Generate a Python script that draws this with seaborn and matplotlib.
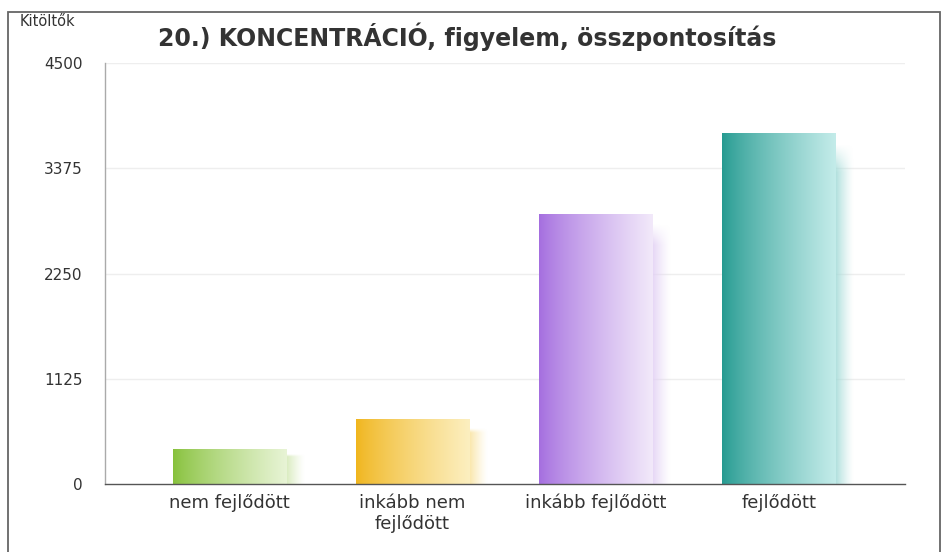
import numpy as np
import pandas as pd
import matplotlib
matplotlib.use('Agg')
import matplotlib.pyplot as plt
import matplotlib.colors as mcolors
from matplotlib.patches import Rectangle
import seaborn as sns

# data
categories = ['nem fejlődött', 'inkább nem\nfejlődött', 'inkább fejlődött', 'fejlődött']
values = [370, 700, 2890, 3750]
yticks = [0, 1125, 2250, 3375, 4500]
dark_colors = ['#86c13a', '#f0b51c', '#a46ddf', '#249a90']
light_colors = ['#e8f4d6', '#fcefc0', '#f2e9fa', '#c4ecea']

df = pd.DataFrame({'cat': categories, 'val': values})

sns.set_style('white')
plt.rcParams['font.family'] = ['DejaVu Sans']

fig = plt.figure(figsize=(9.49, 5.52), dpi=100)
ax = fig.add_axes([105 / 949, 1 - 484 / 552, 800 / 949, 421 / 552])

sns.barplot(data=df, x='cat', y='val', ax=ax, width=0.62,
            color='white', edgecolor='none', zorder=3)

ax.set_xlim(-0.68, 3.69)
ax.set_ylim(0, 4500)

# gradient fill + soft shadow for each bar
for patch, c1, c2 in zip(ax.patches, dark_colors, light_colors):
    x0, w, h = patch.get_x(), patch.get_width(), patch.get_height()
    r1 = np.array(mcolors.to_rgb(c1))
    r2 = np.array(mcolors.to_rgb(c2))

    # shadow: lighter blurred strip to the right of the bar
    sx0, sx1 = x0 + w - 0.03, x0 + w + 0.1
    top = max(h - 110, h * 0.85)
    nx, ny = 100, 100
    gx = np.linspace(0, 1, nx)
    gy = np.linspace(0, 1, ny)
    fade_x = np.clip((1 - gx) / 0.75, 0, 1) ** 1.3
    fade_y = np.clip((1 - gy) / 0.08, 0, 1)
    img = np.zeros((ny, nx, 4))
    img[..., :3] = r2 * 0.8 + r1 * 0.2
    img[..., 3] = np.outer(fade_y, fade_x) * 0.85
    ax.imshow(img, extent=[sx0, sx1, 0, top], origin='lower',
              aspect='auto', zorder=2, interpolation='bilinear')

    # main bar gradient (dark left -> light right)
    t = np.linspace(0, 1, 256) ** 0.8
    grad = (r1[None, :] * (1 - t[:, None]) + r2[None, :] * t[:, None])
    grad = grad[None, :, :]
    im = ax.imshow(grad, extent=[x0, x0 + w, 0, h], origin='lower',
                   aspect='auto', zorder=4, interpolation='bilinear')
    im.set_clip_path(patch)

ax.set_yticks(yticks)
ax.set_yticklabels([str(v) for v in yticks])
ax.set_xticks(range(len(categories)))
ax.set_xticklabels(categories)
ax.tick_params(axis='y', length=0, pad=16, labelsize=11, labelcolor='#333333')
ax.tick_params(axis='x', length=0, pad=7, labelsize=13, labelcolor='#333333')
ax.set_xlabel('')
ax.set_ylabel('')

for yv in yticks[1:]:
    ax.axhline(yv, color='#eeeeee', lw=1, zorder=1)

for s in ['top', 'right']:
    ax.spines[s].set_visible(False)
ax.spines['left'].set_color('#aaaaaa')
ax.spines['left'].set_linewidth(1)
ax.spines['bottom'].set_color('#555555')
ax.spines['bottom'].set_linewidth(1)
ax.spines['bottom'].set_zorder(5)

fig.text(467 / 949, 1 - 37 / 552, '20.) KONCENTRÁCIÓ, figyelem, összpontosítás',
         ha='center', va='center', fontsize=17, fontweight='bold', color='#333333')
fig.text(20 / 949, 1 - 22 / 552, 'Kitöltők', ha='left', va='center',
         fontsize=10.5, color='#333333')

# outer frame
fig.patches.append(Rectangle((8 / 949, -0.05), 932 / 949, 1.05 - 12 / 552,
                             transform=fig.transFigure, fill=False,
                             edgecolor='#666666', lw=1.3))

fig.savefig('out.png', dpi=100)
